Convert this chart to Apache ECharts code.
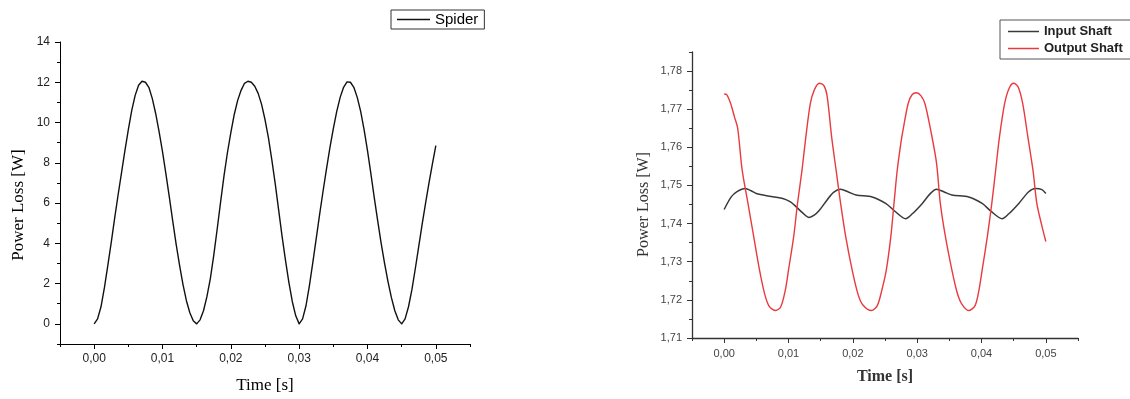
<!DOCTYPE html>
<html>
<head>
<meta charset="utf-8">
<script src="https://cdn.jsdelivr.net/npm/echarts@6/dist/echarts.min.js"></script>
<style>
html,body{margin:0;padding:0;background:#fff;}
#c{width:1130px;height:399px;}
</style>
</head>
<body>
<div id="c"></div>
<script>
// ---- data ----
var leftXTicks = [0, 0.01, 0.02, 0.03, 0.04, 0.05];
var leftYTicks = [0, 2, 4, 6, 8, 10, 12, 14];
var rightXTicks = [0, 0.01, 0.02, 0.03, 0.04, 0.05];
var rightYTicks = [1.71, 1.72, 1.73, 1.74, 1.75, 1.76, 1.77, 1.78];

var spiderData = [
 [0.0000,0.00],[0.0005,0.25],[0.0010,0.85],[0.0015,1.80],[0.0020,2.90],[0.0025,4.05],[0.0030,5.25],[0.0035,6.40],
 [0.0040,7.50],[0.0045,8.60],[0.0050,9.65],[0.0055,10.60],[0.0060,11.35],[0.0065,11.85],[0.0070,12.05],[0.0075,12.00],
 [0.0080,11.75],[0.0085,11.20],[0.0090,10.45],[0.0095,9.55],[0.0100,8.55],[0.0105,7.45],[0.0110,6.30],[0.0115,5.10],
 [0.0120,3.95],[0.0125,2.90],[0.0130,1.95],[0.0135,1.15],[0.0140,0.55],[0.0145,0.15],[0.0150,0.00],
 [0.0155,0.20],[0.0160,0.65],[0.0165,1.35],[0.0170,2.25],[0.0175,3.40],[0.0180,4.70],[0.0185,6.05],[0.0190,7.35],
 [0.0195,8.50],[0.0200,9.50],[0.0205,10.40],[0.0210,11.10],[0.0215,11.60],[0.0220,11.95],[0.0225,12.05],[0.0230,12.00],
 [0.0235,11.80],[0.0240,11.45],[0.0245,10.90],[0.0250,10.15],[0.0255,9.25],[0.0260,8.15],[0.0265,6.95],[0.0270,5.65],
 [0.0275,4.35],[0.0280,3.15],[0.0285,2.05],[0.0290,1.10],[0.0295,0.40],[0.0300,0.00],
 [0.0305,0.25],[0.0310,0.90],[0.0315,1.90],[0.0320,3.05],[0.0325,4.25],[0.0330,5.45],[0.0335,6.60],[0.0340,7.70],
 [0.0345,8.75],[0.0350,9.70],[0.0355,10.55],[0.0360,11.25],[0.0365,11.75],[0.0370,12.02],[0.0375,12.00],
 [0.0380,11.75],[0.0385,11.25],[0.0390,10.55],[0.0395,9.65],[0.0400,8.60],[0.0405,7.45],[0.0410,6.25],[0.0415,5.10],
 [0.0420,4.00],[0.0425,3.00],[0.0430,2.10],[0.0435,1.30],[0.0440,0.65],[0.0445,0.20],[0.0450,0.00],
 [0.0455,0.25],[0.0460,0.85],[0.0465,1.70],[0.0470,2.75],[0.0475,3.85],[0.0480,4.95],[0.0485,6.00],[0.0490,7.00],
 [0.0495,7.95],[0.0500,8.85]
];

var inputShaftData = [
 [0.0000,1.7437],[0.0011,1.7470],[0.0020,1.7484],[0.0033,1.7492],[0.0042,1.7486],[0.0050,1.7479],[0.0070,1.7472],
 [0.0091,1.7466],[0.0103,1.7457],[0.0112,1.7444],[0.0122,1.7428],[0.0132,1.7416],[0.0140,1.7422],[0.0148,1.7435],
 [0.0160,1.7462],[0.0170,1.7482],[0.0181,1.7490],[0.0193,1.7483],[0.0205,1.7475],[0.0230,1.7470],[0.0251,1.7453],
 [0.0265,1.7433],[0.0282,1.7413],[0.0292,1.7425],[0.0308,1.7453],[0.0320,1.7478],[0.0330,1.7490],[0.0342,1.7483],
 [0.0354,1.7475],[0.0380,1.7470],[0.0401,1.7453],[0.0415,1.7432],[0.0432,1.7413],[0.0442,1.7425],[0.0458,1.7453],
 [0.0473,1.7483],[0.0484,1.7492],[0.0494,1.7489],[0.0500,1.7479]
];

var outputShaftData = [
 [0.0000,1.7740],[0.0004,1.7738],[0.0010,1.7715],[0.0016,1.7680],[0.0021,1.7650],[0.0028,1.7540],[0.0037,1.7453],
 [0.0046,1.7365],[0.0055,1.7278],[0.0063,1.7215],[0.0070,1.7183],[0.0080,1.7172],[0.0088,1.7182],[0.0095,1.7225],
 [0.0100,1.7278],[0.0108,1.7365],[0.0114,1.7453],[0.0121,1.7540],[0.0127,1.7628],[0.0134,1.7715],[0.0140,1.7750],
 [0.0148,1.7768],[0.0155,1.7762],[0.0160,1.7735],[0.0167,1.7628],[0.0174,1.7540],[0.0181,1.7453],[0.0189,1.7365],
 [0.0199,1.7278],[0.0208,1.7215],[0.0215,1.7188],[0.0229,1.7172],[0.0238,1.7185],[0.0245,1.7225],[0.0252,1.7278],
 [0.0259,1.7365],[0.0264,1.7453],[0.0269,1.7540],[0.0275,1.7615],[0.0278,1.7645],[0.0286,1.7715],[0.0292,1.7738],
 [0.0299,1.7743],[0.0306,1.7735],[0.0312,1.7715],[0.0321,1.7645],[0.0330,1.7560],[0.0336,1.7453],[0.0344,1.7365],
 [0.0354,1.7278],[0.0362,1.7220],[0.0369,1.7190],[0.0380,1.7172],[0.0390,1.7185],[0.0396,1.7225],[0.0401,1.7278],
 [0.0409,1.7365],[0.0416,1.7453],[0.0422,1.7540],[0.0428,1.7628],[0.0436,1.7715],[0.0443,1.7755],[0.0450,1.7768],
 [0.0457,1.7758],[0.0464,1.7715],[0.0472,1.7628],[0.0480,1.7540],[0.0486,1.7453],[0.0493,1.7400],[0.0500,1.7353]
];

// ---- chart ----
var chart = echarts.init(document.getElementById('c'), null, {renderer: 'canvas'});
var SANS = 'Liberation Sans, Arial, sans-serif';
var SERIF = 'Liberation Serif, Times New Roman, serif';
function comma2(v){ return (Math.round(v*100)/100).toFixed(2).replace('.', ','); }

function mainAxis(opt){
  return Object.assign({
    type: 'value',
    splitLine: {show: false},
    axisLine: {show: true, onZero: false, lineStyle: {color: '#000', width: 1}},
    axisTick: {show: true, inside: false, length: 5, lineStyle: {color: '#000'}},
    axisLabel: {show: true, fontFamily: SANS, fontSize: 12, color: '#222'}
  }, opt);
}
function minorAxis(opt){
  return Object.assign({
    type: 'value',
    splitLine: {show: false},
    axisLine: {show: false, onZero: false},
    axisLabel: {show: false},
    axisTick: {show: true, inside: false, length: 3, lineStyle: {color: '#000'}}
  }, opt);
}

var option = {
  backgroundColor: '#fff',
  animation: false,
  grid: [
    {left: 60, top: 42, width: 410, height: 305, containLabel: false},
    {left: 692, top: 52, width: 386, height: 286, containLabel: false}
  ],
  legend: [
    {
      data: ['Spider'], left: 391, top: 10, orient: 'horizontal',
      icon: 'rect', itemWidth: 33, itemHeight: 1.3, padding: [2, 6, 2, 6],
      borderColor: '#333', borderWidth: 1,
      textStyle: {fontFamily: SANS, fontSize: 15, color: '#000'}
    },
    {
      data: ['Input Shaft', 'Output Shaft'], left: 1000, top: 20, orient: 'vertical',
      icon: 'rect', itemWidth: 31, itemHeight: 1.5, itemGap: 4, padding: [5, 9, 4, 8],
      borderColor: '#555', borderWidth: 1,
      textStyle: {fontFamily: SANS, fontSize: 13, fontWeight: 'bold', color: '#222'}
    }
  ],
  xAxis: [
    mainAxis({gridIndex: 0, position: 'bottom', min: -0.005, max: 0.055,
      axisTick: {show: true, length: 5, lineStyle: {color: '#000'}, customValues: leftXTicks},
      axisLabel: {show: true, fontFamily: SANS, fontSize: 12, color: '#222', margin: 9, customValues: leftXTicks, formatter: comma2},
      name: 'Time [s]', nameLocation: 'middle', nameGap: 33,
      nameTextStyle: {fontFamily: SERIF, fontSize: 17, color: '#000'}}),
    minorAxis({gridIndex: 0, position: 'bottom', min: -0.005, max: 0.055, interval: 0.005}),
    mainAxis({gridIndex: 1, position: 'bottom', min: -0.005, max: 0.055,
      axisLine: {show: true, onZero: false, lineStyle: {color: '#333', width: 1.3}},
      axisTick: {show: true, length: 5, lineStyle: {color: '#333'}, customValues: rightXTicks},
      axisLabel: {show: true, fontFamily: SANS, fontSize: 11, color: '#444', margin: 10, customValues: rightXTicks, formatter: comma2},
      name: 'Time [s]', nameLocation: 'middle', nameGap: 31,
      nameTextStyle: {fontFamily: SERIF, fontSize: 16, fontWeight: 'bold', color: '#333'}}),
    minorAxis({gridIndex: 1, position: 'bottom', min: -0.005, max: 0.055, interval: 0.005,
      axisTick: {show: true, length: 3, lineStyle: {color: '#333'}}})
  ],
  yAxis: [
    mainAxis({gridIndex: 0, position: 'left', min: -1, max: 14,
      axisTick: {show: true, length: 5, lineStyle: {color: '#000'}, customValues: leftYTicks},
      axisLabel: {show: true, fontFamily: SANS, fontSize: 12, color: '#222', margin: 10, customValues: leftYTicks},
      name: 'Power Loss [W]', nameLocation: 'middle', nameGap: 33,
      nameTextStyle: {fontFamily: SERIF, fontSize: 17, color: '#000', padding: [0, 24, 0, 0]}}),
    minorAxis({gridIndex: 0, position: 'left', min: -1, max: 14, interval: 1}),
    mainAxis({gridIndex: 1, position: 'left', min: 1.71, max: 1.785,
      axisLine: {show: true, onZero: false, lineStyle: {color: '#333', width: 1.3}},
      axisTick: {show: true, length: 5, lineStyle: {color: '#333'}, customValues: rightYTicks},
      axisLabel: {show: true, fontFamily: SANS, fontSize: 11, color: '#444', margin: 10, customValues: rightYTicks, formatter: comma2},
      name: 'Power Loss [W]', nameLocation: 'middle', nameGap: 40,
      nameTextStyle: {fontFamily: SERIF, fontSize: 16, color: '#333', padding: [0, 19, 0, 0]}}),
    minorAxis({gridIndex: 1, position: 'left', min: 1.71, max: 1.785, interval: 0.005,
      axisTick: {show: true, length: 3, lineStyle: {color: '#333'}}})
  ],
  series: [
    {name: 'Spider', type: 'line', xAxisIndex: 0, yAxisIndex: 0, data: spiderData,
      symbol: 'none', smooth: false, lineStyle: {color: '#111', width: 1.4, join: 'round'}, itemStyle: {color: '#111'}},
    {name: 'Input Shaft', type: 'line', xAxisIndex: 2, yAxisIndex: 2, data: inputShaftData,
      symbol: 'none', smooth: 0.3, lineStyle: {color: '#3a3a3a', width: 1.5}, itemStyle: {color: '#3a3a3a'}},
    {name: 'Output Shaft', type: 'line', xAxisIndex: 2, yAxisIndex: 2, data: outputShaftData,
      symbol: 'none', smooth: 0.3, lineStyle: {color: '#e83a3f', width: 1.4}, itemStyle: {color: '#e83a3f'}}
  ]
};
chart.setOption(option);
</script>
</body>
</html>
